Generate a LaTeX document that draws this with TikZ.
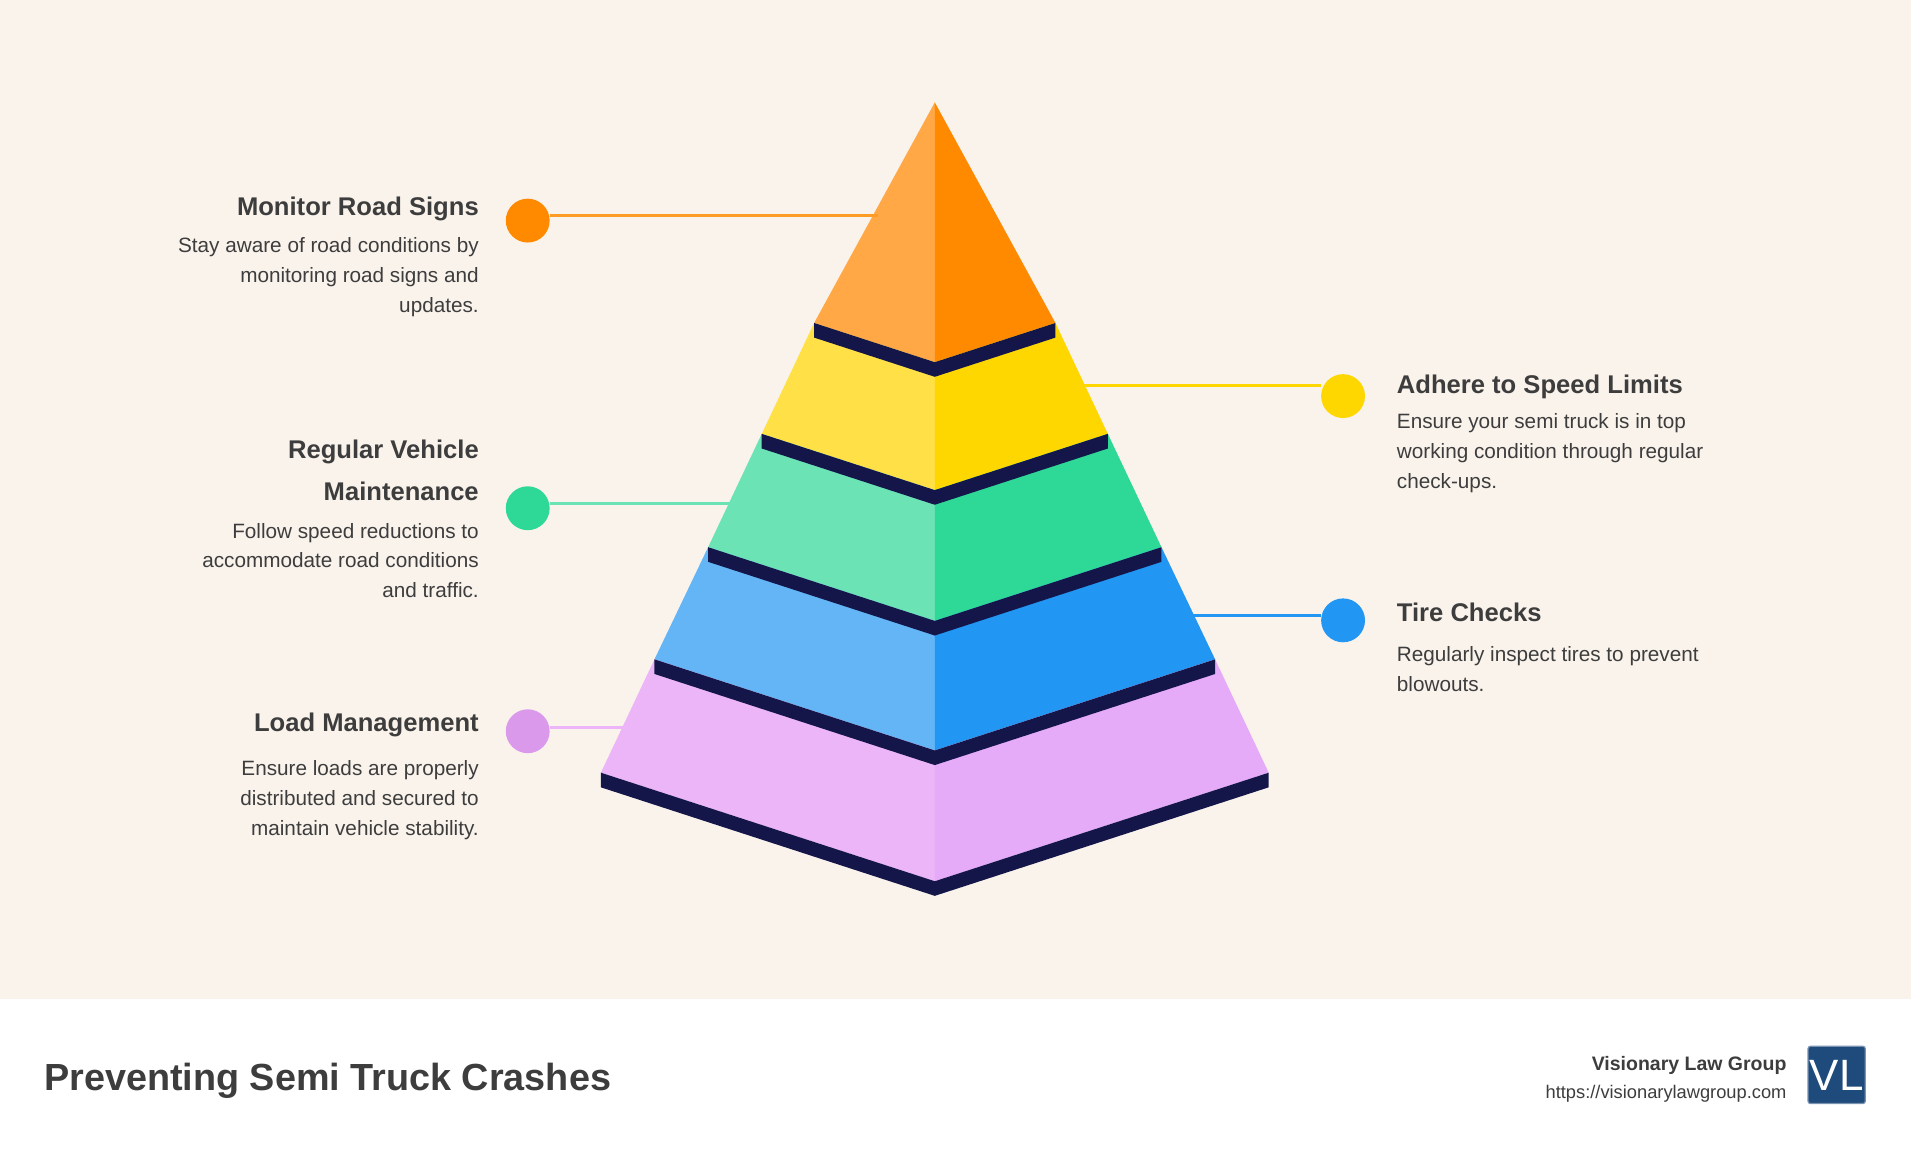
\documentclass[tikz,border=0pt]{standalone}
\usepackage{fontspec}
\setmainfont{Liberation Sans}
\definecolor{bgc}{HTML}{FAF3EC}
\definecolor{band}{HTML}{14164A}
\definecolor{txt}{HTML}{3D3D3D}
\definecolor{oL}{HTML}{FFA845}\definecolor{oR}{HTML}{FF8A00}
\definecolor{yL}{HTML}{FFE047}\definecolor{yR}{HTML}{FFD700}
\definecolor{gL}{HTML}{6BE3B5}\definecolor{gR}{HTML}{2ED896}
\definecolor{bL}{HTML}{64B5F6}\definecolor{bR}{HTML}{2196F3}
\definecolor{pL}{HTML}{ECB5F7}\definecolor{pR}{HTML}{E5AAF8}
\definecolor{logo}{HTML}{1F4A7C}
\begin{document}
\begin{tikzpicture}[x=1pt,y=-1pt,
 head/.style={font=\fontsize{21}{25}\selectfont\bfseries,text=txt,inner sep=0},
 desc/.style={font=\fontsize{17}{24.5}\selectfont,text=txt,inner sep=0},
 dot/.style={circle,minimum size=36pt,inner sep=0}]
\fill[bgc] (0,0) rectangle (1568,820);
\fill[white] (0,820) rectangle (1568,952);
\useasboundingbox (0,0) rectangle (1568,952);
% faces
\foreach \yp/\wp/\yb/\w/\cl/\cr in {84/0/265/99/oL/oR, 265/99/356/142/yL/yR, 356/142/449/186/gL/gR, 449/186/541/230/bL/bR, 541/230/634/274/pL/pR}{
 \pgfmathsetmacro\dp{0.325*\wp}\pgfmathsetmacro\d{0.325*\w}
 \fill[\cl] (767-\wp,\yp) -- (767-\w,\yb) -- (767,\yb+\d) -- (767,\yp+\dp) -- cycle;
 \fill[\cr] (767+\wp,\yp) -- (767+\w,\yb) -- (767,\yb+\d) -- (767,\yp+\dp) -- cycle;
}
\foreach \yb/\w in {265/99,356/142,449/186,541/230,634/274}{
 \pgfmathsetmacro\d{0.325*\w}
 \fill[band] (767-\w,\yb) -- (767,\yb+\d) -- (767+\w,\yb) -- (767+\w,\yb+12) -- (767,\yb+\d+12) -- (767-\w,\yb+12) -- cycle;
}
% connectors
\node[dot,fill=oR] (d1) at (433,181) {};
\coordinate (e1) at (720,177);
\draw[line width=2.5pt,oR!85] (d1.east|-e1) -- (e1);
\node[dot,fill=yR] (d2) at (1102,325) {};
\coordinate (e2) at (888,316);
\draw[line width=2.5pt,yR] (e2) -- (d2.west|-e2);
\node[dot,fill=gR] (d3) at (433,417) {};
\coordinate (e3) at (606,413);
\draw[line width=2.5pt,gL] (d3.east|-e3) -- (e3);
\node[dot,fill=bR] (d4) at (1102,509) {};
\coordinate (e4) at (978,505);
\draw[line width=2.5pt,bR] (e4) -- (d4.west|-e4);
\node[dot,fill=pR!90!violet] (d5) at (433,600) {};
\coordinate (e5) at (513,597);
\draw[line width=2.5pt,pL] (d5.east|-e5) -- (e5);
% left texts
\node[head,anchor=base east] (h1) at (393,177) {Monitor Road Signs};
\node[desc,anchor=north east,align=right] (t1) at (393,195) {Stay aware of road conditions by\\monitoring road signs and\\updates.};
\node[head,anchor=north east,align=right,font=\fontsize{21}{34}\selectfont\bfseries] (h3) at (393,361) {Regular Vehicle\\Maintenance};
\node[desc,anchor=north east,align=right] (t3) at (393,429) {Follow speed reductions to\\accommodate road conditions\\and traffic.};
\node[head,anchor=base east] (h5) at (393,600) {Load Management};
\node[desc,anchor=north east,align=right] (t5) at (393,624) {Ensure loads are properly\\distributed and secured to\\maintain vehicle stability.};
% right texts
\node[head,anchor=base west] (h2) at (1146,323) {Adhere to Speed Limits};
\node[desc,anchor=north west,align=left] (t2) at (1146,339) {Ensure your semi truck is in top\\working condition through regular\\check-ups.};
\node[head,anchor=base west] (h4) at (1146,510) {Tire Checks};
\node[desc,anchor=north west,align=left] (t4) at (1146,530) {Regularly inspect tires to prevent\\blowouts.};
% footer
\node[anchor=base west,inner sep=0,text=txt,font=\fontsize{31}{36}\selectfont\bfseries] (title) at (36,895) {Preventing Semi Truck Crashes};
\node[anchor=base east,inner sep=0,text=txt,font=\fontsize{16}{20}\selectfont\bfseries] (firm) at (1466,878) {Visionary Law Group};
\node[anchor=base east,inner sep=0,text=txt,font=\fontsize{15}{20}\selectfont] (url) at (1466,901) {https://visionarylawgroup.com};
\node[fill=logo,draw=logo!60,line width=1pt,minimum size=47pt,inner sep=0,rounded corners=2pt,text=white,font=\fontsize{36}{36}\selectfont] (lg) at (1507,882) {VL};
\end{tikzpicture}
\end{document}
